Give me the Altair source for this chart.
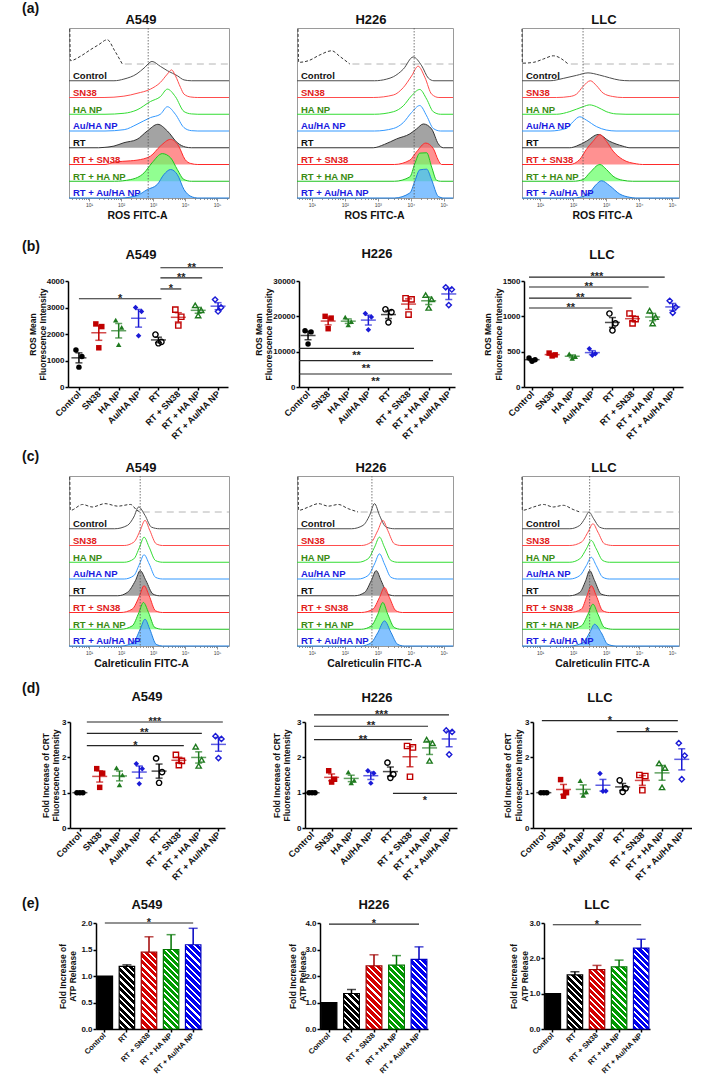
import math
import altair as alt
import pandas as pd

FONT = "Liberation Sans"

GROUPS = ["Control", "SN38", "HA NP", "Au/HA NP", "RT", "RT + SN38", "RT + HA NP", "RT + Au/HA NP"]
ATP_GROUPS = ["Control", "RT", "RT + SN38", "RT + HA NP", "RT + Au/HA NP"]

DOT_COLORS = ["#000000", "#c00000", "#1f7a1f", "#1a1ad6"] * 2
DOT_SHAPES = ["circle", "square", "triangle-up", "diamond"] * 2

# ---- (b) ROS mean fluorescence intensity, three replicates per group (GROUPS order)
ros_a549 = [[1400, 1150, 750], [2380, 2280, 1480], [2520, 2250, 1600], [3000, 2850, 1930],
            [1980, 1700, 1650], [2920, 2650, 2320], [3080, 2900, 2700], [3300, 3000, 2850]]
ros_h226 = [[15900, 15600, 12200], [20000, 19500, 16500], [19800, 18500, 17600], [20800, 19800, 16200],
            [22000, 21200, 18300], [25100, 24800, 20500], [26000, 24800, 22400], [28200, 27600, 23200]]
ros_llc = [[410, 385, 365], [480, 455, 440], [470, 430, 405], [540, 470, 450],
           [1040, 900, 800], [1040, 960, 900], [1080, 990, 900], [1220, 1130, 1050]]

# significance brackets: (from, to, height, stars, stars under the line)
ros_a549_sig = [(0.0, 4.15, 3330, "*", False), (4.1, 5.15, 3700, "*", False),
                (4.1, 6.2, 4120, "**", False), (4.1, 7.25, 4500, "**", False)]
ros_h226_sig = [(-0.45, 5.27, 10950, "**", True), (-0.45, 6.22, 7450, "**", True),
                (-0.45, 7.16, 3680, "**", True)]
ros_llc_sig = [(-0.15, 4.0, 1118, "**", False), (-0.15, 4.95, 1259, "**", False),
               (-0.15, 5.8, 1415, "**", False), (-0.15, 6.6, 1556, "***", False)]

# ---- (d) fold increase of CRT fluorescence intensity
crt_a549 = [[1, 1, 1], [1.68, 1.55, 1.15], [1.7, 1.5, 1.22], [1.82, 1.68, 1.25],
            [1.97, 1.58, 1.28], [2.07, 1.9, 1.78], [2.3, 1.93, 1.76], [2.6, 2.52, 1.98]]
crt_h226 = [[1, 1, 1], [1.62, 1.38, 1.3], [1.58, 1.35, 1.28], [1.62, 1.55, 1.27],
            [1.85, 1.52, 1.42], [2.32, 2.28, 1.45], [2.5, 2.4, 1.9], [2.76, 2.72, 2.08]]
crt_llc = [[1, 1, 1], [1.37, 1.0, 0.9], [1.34, 1.02, 0.92], [1.54, 1.05, 1.04],
           [1.35, 1.12, 1.02], [1.5, 1.47, 1.07], [1.83, 1.7, 1.15], [2.4, 2.05, 1.38]]

crt_a549_sig = [(0.35, 5.25, 2.33, "*", False), (0.35, 6.16, 2.68, "**", False), (0.35, 7.22, 3.0, "***", False)]
crt_h226_sig = [(0.1, 5.1, 2.5, "**", False), (0.1, 5.92, 2.88, "**", False),
                (0.1, 6.99, 3.2, "***", False), (4.13, 7.4, 0.98, "*", True)]
crt_llc_sig = [(-0.1, 6.8, 3.04, "*", False), (3.7, 6.8, 2.73, "*", False)]

# ---- (e) fold increase of ATP release (mean, SEM)
atp_a549 = [1.0, 1.18, 1.45, 1.50, 1.59]
atp_a549_sem = [0.0, 0.03, 0.29, 0.28, 0.31]
atp_h226 = [1.0, 1.34, 2.38, 2.41, 2.63]
atp_h226_sem = [0.0, 0.15, 0.42, 0.36, 0.47]
atp_llc = [1.0, 1.53, 1.68, 1.76, 2.29]
atp_llc_sem = [0.0, 0.09, 0.12, 0.19, 0.25]
atp_sig = [2.0, 3.96, 2.95]

ATP_FILL = ["#000000", "#000000", "#d40000", "#009c00", "#0000f0"]
ATP_EDGE = ["#000000", "#000000", "#a00000", "#007400", "#0000c0"]

# ---- (a)/(c) flow histograms: (log10 intensity, height in lane units)
ros_hist_a549 = {
    "iso": [(0.40, 2.1), (0.42, 0.2), (0.73, 0.46), (1.05, 0.86), (1.3, 1.15), (1.57, 1.45), (1.8, 0.8), (2.04, 0.0)],
    "Control": [(1.78, 0), (2.09, 0.1), (2.5, 0.42), (2.72, 0.76), (2.97, 1.15), (3.23, 0.86), (3.45, 0.6), (3.76, 0.3), (3.97, 0.05), (4.2, 0)],
    "SN38": [(1.47, 0), (2.09, 0.08), (2.5, 0.25), (2.92, 0.5), (3.23, 0.9), (3.45, 1.4), (3.58, 1.65), (3.7, 1.3), (3.86, 0.6), (3.97, 0.2), (4.18, 0.03), (4.4, 0)],
    "HA NP": [(1.5, 0), (2.1, 0.06), (2.5, 0.26), (2.92, 0.76), (3.23, 1.05), (3.45, 1.5), (3.7, 1.05), (3.97, 0.16), (4.2, 0.02), (4.4, 0)],
    "Au/HA NP": [(1.5, 0), (2.1, 0.08), (2.5, 0.4), (2.92, 0.8), (3.23, 1.0), (3.45, 1.45), (3.7, 1.0), (3.97, 0.2), (4.2, 0.02), (4.4, 0)],
    "RT": [(1.3, 0), (1.47, 0.02), (1.78, 0.1), (2.09, 0.3), (2.5, 0.5), (2.82, 1.0), (3.15, 1.4), (3.45, 1.0), (3.76, 0.3), (4.02, 0.04), (4.2, 0)],
    "RT + SN38": [(1.5, 0), (1.78, 0.14), (2.3, 0.22), (2.5, 0.26), (2.92, 0.5), (3.23, 1.1), (3.55, 1.5), (3.8, 1.1), (4.0, 0.3), (4.18, 0.06), (4.4, 0)],
    "RT + HA NP": [(1.8, 0), (2.3, 0.1), (2.72, 0.5), (2.97, 1.1), (3.29, 1.65), (3.55, 1.4), (3.76, 0.7), (3.97, 0.1), (4.2, 0)],
    "RT + Au/HA NP": [(2.0, 0), (2.5, 0.15), (2.82, 0.5), (3.13, 0.8), (3.34, 1.4), (3.55, 1.7), (3.76, 1.4), (3.97, 0.5), (4.18, 0.1), (4.4, 0)],
}
ros_hist_h226 = {
    "iso": [(0.58, 2.1), (0.6, 0.1), (0.9, 0.2), (1.25, 0.55), (1.6, 0.79), (1.85, 0.45), (2.15, 0.0)],
    "Control": [(2.9, 0), (3.27, 0.1), (3.47, 0.24), (3.77, 0.69), (4.07, 1.42), (4.33, 0.89), (4.53, 0.16), (4.7, 0)],
    "SN38": [(2.86, 0), (3.47, 0.15), (3.77, 0.59), (4.02, 1.28), (4.22, 1.87), (4.43, 1.18), (4.63, 0.2), (4.85, 0)],
    "HA NP": [(2.9, 0), (3.47, 0.15), (3.77, 0.5), (4.02, 1.1), (4.27, 1.48), (4.48, 0.9), (4.68, 0.15), (4.9, 0)],
    "Au/HA NP": [(2.9, 0), (3.47, 0.15), (3.77, 0.5), (4.02, 1.1), (4.27, 1.52), (4.48, 0.9), (4.68, 0.15), (4.9, 0)],
    "RT": [(2.86, 0), (3.2, 0.2), (3.57, 0.53), (3.97, 0.83), (4.17, 1.12), (4.38, 1.42), (4.63, 1.12), (4.83, 0.24), (4.98, 0)],
    "RT + SN38": [(3.5, 0), (3.97, 0.26), (4.17, 0.75), (4.45, 1.28), (4.68, 0.95), (4.83, 0.26), (4.93, 0)],
    "RT + HA NP": [(3.5, 0), (3.97, 0.26), (4.12, 1.05), (4.27, 1.68), (4.48, 1.7), (4.63, 0.85), (4.78, 0.06), (4.9, 0)],
    "RT + Au/HA NP": [(3.5, 0), (3.97, 0.3), (4.12, 1.0), (4.27, 1.68), (4.48, 1.72), (4.63, 1.08), (4.83, 0.1), (5.0, 0)],
}
ros_hist_llc = {
    "iso": [(0.45, 2.1), (0.46, 0.05), (0.8, 0.1), (1.1, 0.3), (1.4, 0.49), (1.85, 0.0)],
    "Control": [(1.3, 0), (1.7, 0.14), (2.1, 0.32), (2.45, 0.47), (2.8, 0.34), (3.1, 0.18), (3.4, 0.04), (3.7, 0)],
    "SN38": [(1.5, 0), (1.9, 0.06), (2.1, 0.2), (2.3, 0.66), (2.52, 1.0), (2.71, 0.7), (2.91, 0.26), (3.2, 0.06), (3.5, 0)],
    "HA NP": [(1.5, 0), (1.9, 0.16), (2.3, 0.45), (2.5, 0.56), (2.71, 0.45), (3.0, 0.16), (3.3, 0.02), (3.6, 0)],
    "Au/HA NP": [(1.3, 0), (1.8, 0.16), (2.0, 0.56), (2.2, 0.85), (2.4, 0.65), (2.71, 0.26), (3.0, 0.06), (3.3, 0)],
    "RT": [(1.9, 0), (2.1, 0.1), (2.4, 0.39), (2.76, 0.79), (3.1, 0.39), (3.5, 0.1), (3.72, 0)],
    "RT + SN38": [(1.9, 0), (2.2, 0.3), (2.4, 0.9), (2.6, 1.38), (2.81, 1.78), (3.01, 1.38), (3.21, 0.8), (3.5, 0.3), (3.92, 0.04), (4.1, 0)],
    "RT + HA NP": [(2.0, 0), (2.3, 0.1), (2.5, 0.5), (2.81, 1.0), (3.01, 0.7), (3.21, 0.3), (3.5, 0.06), (3.8, 0)],
    "RT + Au/HA NP": [(2.0, 0), (2.2, 0.04), (2.5, 0.34), (2.71, 0.83), (2.86, 1.03), (3.11, 0.73), (3.41, 0.24), (3.72, 0.04), (3.9, 0)],
}
crt_hist_a549 = {
    "iso": [(0.40, 2.1), (0.42, 0.1), (0.8, 0.45), (1.1, 0.3), (1.5, 0.5), (1.9, 0.35), (2.3, 0.45), (2.5, 0.1), (2.6, 0)],
    "Control": [(1.8, 0), (2.2, 0.2), (2.4, 0.7), (2.55, 1.3), (2.75, 0.8), (2.95, 0.1), (3.2, 0)],
    "SN38": [(2.1, 0), (2.4, 0.2), (2.6, 0.9), (2.75, 1.5), (2.9, 0.9), (3.1, 0.1), (3.3, 0)],
    "HA NP": [(2.1, 0), (2.4, 0.2), (2.58, 0.9), (2.72, 1.5), (2.88, 0.9), (3.08, 0.1), (3.3, 0)],
    "Au/HA NP": [(2.1, 0), (2.4, 0.2), (2.58, 0.9), (2.72, 1.45), (2.88, 0.9), (3.08, 0.1), (3.3, 0)],
    "RT": [(1.9, 0), (2.2, 0.2), (2.45, 0.9), (2.6, 1.5), (2.78, 0.9), (3.0, 0.1), (3.2, 0)],
    "RT + SN38": [(2.0, 0), (2.35, 0.2), (2.58, 1.0), (2.72, 1.6), (2.88, 1.0), (3.08, 0.1), (3.3, 0)],
    "RT + HA NP": [(2.0, 0), (2.35, 0.2), (2.56, 1.0), (2.7, 1.6), (2.86, 1.0), (3.06, 0.1), (3.3, 0)],
    "RT + Au/HA NP": [(2.0, 0), (2.38, 0.2), (2.6, 1.0), (2.75, 1.6), (2.9, 1.0), (3.1, 0.1), (3.3, 0)],
}
crt_hist_h226 = {
    "iso": [(0.58, 2.1), (0.6, 0.1), (0.9, 0.3), (1.2, 0.5), (1.5, 0.35), (1.8, 0.45), (2.1, 0.2), (2.4, 0)],
    "Control": [(2.2, 0), (2.55, 0.2), (2.75, 0.8), (2.9, 1.5), (3.05, 0.8), (3.25, 0.1), (3.5, 0)],
    "SN38": [(2.5, 0), (2.8, 0.2), (3.0, 0.9), (3.15, 1.5), (3.3, 0.9), (3.5, 0.1), (3.7, 0)],
    "HA NP": [(2.4, 0), (2.7, 0.2), (2.9, 0.9), (3.05, 1.5), (3.2, 0.9), (3.4, 0.1), (3.6, 0)],
    "Au/HA NP": [(2.4, 0), (2.7, 0.2), (2.9, 0.9), (3.05, 1.5), (3.2, 0.9), (3.4, 0.1), (3.6, 0)],
    "RT": [(2.3, 0), (2.6, 0.2), (2.8, 0.9), (2.95, 1.5), (3.1, 0.9), (3.3, 0.1), (3.5, 0)],
    "RT + SN38": [(2.5, 0), (2.85, 0.2), (3.05, 0.9), (3.2, 1.5), (3.35, 0.9), (3.55, 0.1), (3.75, 0)],
    "RT + HA NP": [(2.5, 0), (2.8, 0.2), (3.0, 0.9), (3.15, 1.6), (3.3, 0.9), (3.5, 0.1), (3.7, 0)],
    "RT + Au/HA NP": [(2.5, 0), (2.8, 0.2), (3.0, 0.8), (3.2, 1.5), (3.4, 0.8), (3.6, 0.1), (3.8, 0)],
}
crt_hist_llc = {
    "iso": [(0.45, 2.1), (0.46, 0.1), (0.8, 0.3), (1.1, 0.45), (1.4, 0.3), (1.7, 0.4), (2.0, 0.15), (2.2, 0)],
    "Control": [(1.9, 0), (2.2, 0.2), (2.35, 0.6), (2.48, 1.0), (2.62, 0.6), (2.8, 0.1), (3.0, 0)],
    "SN38": [(1.9, 0), (2.25, 0.2), (2.45, 0.8), (2.6, 1.3), (2.75, 0.8), (2.95, 0.1), (3.2, 0)],
    "HA NP": [(1.9, 0), (2.2, 0.2), (2.4, 0.8), (2.55, 1.3), (2.7, 0.8), (2.9, 0.1), (3.1, 0)],
    "Au/HA NP": [(1.9, 0), (2.2, 0.2), (2.4, 0.8), (2.55, 1.3), (2.7, 0.8), (2.9, 0.1), (3.1, 0)],
    "RT": [(1.9, 0), (2.2, 0.2), (2.38, 0.9), (2.5, 1.5), (2.65, 0.9), (2.85, 0.1), (3.1, 0)],
    "RT + SN38": [(1.9, 0), (2.25, 0.2), (2.42, 1.0), (2.55, 1.6), (2.7, 1.0), (2.9, 0.1), (3.1, 0)],
    "RT + HA NP": [(1.9, 0), (2.25, 0.2), (2.45, 0.9), (2.6, 1.5), (2.75, 0.9), (2.95, 0.1), (3.2, 0)],
    "RT + Au/HA NP": [(1.9, 0), (2.3, 0.2), (2.5, 0.8), (2.65, 1.3), (2.85, 0.8), (3.05, 0.1), (3.3, 0)],
}

# lane of each sample in the stacked histogram (0 = bottom)
LANES = {"iso": 8, "Control": 7, "SN38": 6, "HA NP": 5, "Au/HA NP": 4,
         "RT": 3, "RT + SN38": 2, "RT + HA NP": 1, "RT + Au/HA NP": 0}
LABEL_COLORS = {"Control": "#111111", "SN38": "#e0201a", "HA NP": "#3a8a12", "Au/HA NP": "#1a1ae0",
                "RT": "#111111", "RT + SN38": "#e0201a", "RT + HA NP": "#3a8a12", "RT + Au/HA NP": "#1a1ae0"}
OPEN_LINES = {"Control": "#4d4d4d", "SN38": "#ff4d4d", "HA NP": "#33dd33", "Au/HA NP": "#3399ff"}
FILLED = [("RT", "#7f7f7f", "#333333"), ("RT + SN38", "#ff6666", "#ff2a2a"),
          ("RT + HA NP", "#66ff66", "#1fc41f"), ("RT + Au/HA NP", "#55aaff", "#1f7fe0")]

HIST_H = 170
HIST_TOP = 10.15
PLOT_H = 106
JITTER = [-0.15, 0.15, 0.0]
STAR = "#262626"
ONE = pd.DataFrame({"k": [0]})
SUP = "['⁰','¹','²','³','⁴','⁵','⁶']"
GROUP_LABEL_EXPR = "[" + ",".join("'%s'" % g for g in GROUPS) + "][datum.value]"
IDENT = dict(scale=None)


def title_layer(text, x, y):
    return alt.Chart(ONE).mark_text(font=FONT, fontSize=13, fontWeight="bold", baseline="middle",
                                    align="center", color="#111111").encode(
        x=alt.value(x), y=alt.value(y), text=alt.value(text))


def curve_frame(curves, dom):
    rows = []
    for s, pts in curves.items():
        lane = LANES[s]
        seq = list(pts)
        if s != "iso":
            seq = [(dom[0], 0.0)] + seq + [(dom[1], 0.0)]
        for d, h in seq:
            rows.append({"s": s, "d": d, "y": lane + h, "base": lane, "c": OPEN_LINES.get(s, "#333333")})
    return pd.DataFrame(rows)


def hist_panel(curves, dotted, dom, width, title, tpos, xtitle, xtitle_x):
    df = curve_frame(curves, dom)
    ticks = []
    for n in range(0, 7):
        for k in range(1, 10):
            v = n if k == 1 else n + math.log10(k)
            if dom[0] <= v <= dom[1]:
                ticks.append(v)
    xsc = alt.Scale(domain=dom, nice=False, zero=False)
    ysc = alt.Scale(domain=[0, HIST_TOP], nice=False, zero=False)
    xax = alt.Axis(values=ticks, grid=False, domain=False,
                   labelExpr="datum.value % 1 == 0 ? '10' + " + SUP + "[datum.value] : ''",
                   labelFont=FONT, labelFontSize=5, labelColor="#444444", labelPadding=1,
                   labelOverlap=False, labelFlush=False,
                   tickColor="#777777", tickWidth=0.8,
                   tickSize={"condition": {"test": "datum.value % 1 == 0", "value": 3}, "value": 1.5},
                   title=xtitle, titleFont=FONT, titleFontSize=10.5, titleFontWeight="bold",
                   titleColor="#111111", titleX=xtitle_x, titleY=17, titleAlign="center",
                   titleBaseline="middle")
    X = alt.X("d:Q", scale=xsc, axis=xax)
    Y = alt.Y("y:Q", scale=ysc, axis=None)
    src = alt.Chart(df)
    layers = []
    layers.append(src.transform_filter("datum.s == 'iso'").mark_line(
        color="#333333", strokeWidth=1, strokeDash=[3, 2], interpolate="monotone").encode(X, Y))
    iso_end = curves["iso"][-1][0]
    layers.append(alt.Chart(pd.DataFrame({"d": [iso_end + 0.08], "d2": [dom[1]], "y": [LANES["iso"]]}))
                  .mark_rule(color="#b4b4b4", strokeWidth=1, strokeDash=[7, 5])
                  .encode(x=alt.X("d:Q", scale=xsc, axis=xax), x2="d2:Q", y=alt.Y("y:Q", scale=ysc, axis=None)))
    names = list(OPEN_LINES)
    layers.append(src.transform_filter(alt.FieldOneOfPredicate(field="s", oneOf=names)).mark_line(
        strokeWidth=1, interpolate="monotone").encode(X, Y, detail="s:N", color=alt.Color("c:N", **IDENT)))
    for s, fill, line in FILLED:
        sub = src.transform_filter(alt.FieldEqualPredicate(field="s", equal=s))
        layers.append(sub.mark_area(fill=fill, fillOpacity=0.72, interpolate="monotone").encode(X, Y, y2="base:Q"))
        layers.append(sub.mark_line(color=line, strokeWidth=1, interpolate="monotone").encode(X, Y))
    layers.append(alt.Chart(pd.DataFrame({"d": [dotted]})).mark_rule(
        color="#555555", strokeWidth=0.8, strokeDash=[1.5, 1.5]).encode(x=alt.X("d:Q", scale=xsc, axis=xax)))
    lab = pd.DataFrame({"s": GROUPS, "ly": [LANES[g] + 0.1 for g in GROUPS],
                        "c": [LABEL_COLORS[g] for g in GROUPS]})
    layers.append(alt.Chart(lab).mark_text(font=FONT, fontSize=9.5, fontWeight="bold", align="left",
                                           baseline="alphabetic").encode(
        x=alt.value(4), y=alt.Y("ly:Q", scale=ysc, axis=None), text="s:N",
        color=alt.Color("c:N", **IDENT)))
    layers.append(title_layer(title, *tpos))
    return alt.layer(*layers).properties(width=width, height=HIST_H,
                                         view=alt.ViewBackground(stroke="#9a9a9a", strokeWidth=1))


def y_axis(values, fmt, title, title_x):
    return alt.Axis(values=values, format=fmt, grid=False, labelFont=FONT, labelFontSize=8,
                    labelFontWeight="bold", labelColor="#111111", labelPadding=1, labelFlush=False,
                    labelOverlap=False, tickSize=3, tickWidth=1.5, tickColor="#000000",
                    domainColor="#000000", domainWidth=1.5,
                    title=title, titleFont=FONT, titleFontSize=8.5, titleFontWeight="bold",
                    titleColor="#111111", titleAngle=270, titleAlign="center", titleBaseline="middle",
                    titleX=title_x, titleY=PLOT_H / 2, titleLineHeight=10.5)


def x_axis_common(**kw):
    return dict(labelAngle=315, labelAlign="right", labelBaseline="middle", labelPadding=2,
                labelFont=FONT, labelFontWeight="bold", labelColor="#111111",
                labelOverlap=False, labelFlush=False, tickSize=3, tickWidth=1.5, tickColor="#000000",
                domainColor="#000000", domainWidth=1.5, grid=False, title=None, **kw)


def star_layer(sdf, xenc, yenc, dy):
    return alt.Chart(sdf).mark_text(font=FONT, fontSize=11, fontWeight="bold", fill=STAR,
                                    baseline="alphabetic", dy=dy).encode(xenc, yenc, text="lab:N")


def dot_panel(values, sig, title, tpos, xdom, width, ydom, yticks, ytitle, ytitle_x):
    df = pd.DataFrame([{"idx": i, "grp": GROUPS[i], "rep": r, "v": v, "c": DOT_COLORS[i]}
                       for i, reps in enumerate(values) for r, v in enumerate(reps)])
    xsc = alt.Scale(domain=xdom, nice=False, zero=False)
    ysc = alt.Scale(domain=ydom, nice=False, zero=False)
    xax = alt.Axis(values=list(range(8)), labelExpr=GROUP_LABEL_EXPR, labelFontSize=9, **x_axis_common())
    yax = y_axis(yticks, "d", ytitle, ytitle_x)
    X = alt.X("idx:Q", scale=xsc, axis=xax)
    XJ = alt.X("xj:Q", scale=xsc, axis=xax)
    col = alt.Color("c:N", **IDENT)
    shp = alt.Shape("grp:N", scale=alt.Scale(domain=GROUPS, range=DOT_SHAPES), legend=None)
    base = alt.Chart(df)
    pts = base.transform_calculate(xj="datum.idx + %s[datum.rep]" % JITTER)
    filled = pts.transform_filter("datum.idx < 4").mark_point(filled=True, size=30, opacity=1).encode(
        XJ, alt.Y("v:Q", scale=ysc, axis=yax), color=col, shape=shp)
    hollow = pts.transform_filter("datum.idx >= 4").mark_point(filled=False, size=28, strokeWidth=1.4,
                                                               opacity=1).encode(
        XJ, alt.Y("v:Q", scale=ysc, axis=yax), color=col, shape=shp)
    stats = base.transform_aggregate(m="mean(v)", se="stderr(v)", groupby=["idx", "grp", "c"]).transform_calculate(
        lo="datum.m - datum.se", hi="datum.m + datum.se")
    mean_tick = stats.mark_tick(orient="horizontal", size=15, thickness=1.5).encode(
        X, alt.Y("m:Q", scale=ysc, axis=yax), color=col)
    err = stats.mark_rule(strokeWidth=1.5).encode(X, alt.Y("lo:Q", scale=ysc, axis=yax), y2="hi:Q", color=col)
    caps = stats.transform_fold(["lo", "hi"], as_=["which", "cap"]).mark_tick(
        orient="horizontal", size=7, thickness=1.5).encode(X, alt.Y("cap:Q", scale=ysc, axis=yax), color=col)
    sdf = pd.DataFrame(sig, columns=["x1", "x2", "y", "lab", "below"])
    sdf["xm"] = (sdf["x1"] + sdf["x2"]) / 2
    bars = alt.Chart(sdf).mark_rule(strokeWidth=1.2, color=STAR).encode(
        alt.X("x1:Q", scale=xsc, axis=xax), x2="x2:Q", y=alt.Y("y:Q", scale=ysc, axis=yax))
    XM = alt.X("xm:Q", scale=xsc, axis=xax)
    YS = alt.Y("y:Q", scale=ysc, axis=yax)
    layers = [err, caps, mean_tick, filled, hollow, bars]
    if (~sdf["below"]).any():
        layers.append(star_layer(sdf[~sdf["below"]], XM, YS, 3))
    if sdf["below"].any():
        layers.append(star_layer(sdf[sdf["below"]], XM, YS, 11))
    layers.append(title_layer(title, *tpos))
    return alt.layer(*layers).properties(width=width, height=PLOT_H)


def stripe_fill(color, w, h, period=4.6, white=0.34):
    # diagonal white hatching expressed as a hard-stop linear gradient
    s = (w + h) / (w * w + h * h)
    n = max(2, round((w + h) / (math.sqrt(2) * period)))
    stops = []
    for k in range(n):
        a, b, c = k / n, (k + 1 - white) / n, (k + 1) / n
        stops += [alt.GradientStop(color=color, offset=a), alt.GradientStop(color=color, offset=b),
                  alt.GradientStop(color="#ffffff", offset=b), alt.GradientStop(color="#ffffff", offset=c)]
    return alt.LinearGradient(gradient="linear", stops=stops, x1=0, y1=1, x2=s * w, y2=1 - s * h)


def atp_panel(means, sems, sig_y, title, tpos, width, ydom, yticks, ytitle_x):
    df = pd.DataFrame({"grp": ATP_GROUPS, "m": means, "se": sems, "i": list(range(5)), "c": ATP_EDGE})
    p_in, p_out = 0.3, 0.05
    xsc = alt.Scale(domain=ATP_GROUPS, paddingInner=p_in, paddingOuter=p_out)
    ysc = alt.Scale(domain=ydom, nice=False, zero=True)
    xax = alt.Axis(labelFontSize=7.5, **x_axis_common())
    yax = y_axis(yticks, ".1f", ["Fold Increase of", "ATP Release"], ytitle_x)
    X = alt.X("grp:N", scale=xsc, axis=xax)
    Y = alt.Y("m:Q", scale=ysc, axis=yax)
    step = width / (5 - p_in + 2 * p_out)
    bw = step * (1 - p_in)
    layers = []
    for i in range(5):
        hpx = means[i] / (ydom[1] - ydom[0]) * PLOT_H
        fill = ATP_FILL[i] if i == 0 else stripe_fill(ATP_FILL[i], bw, hpx)
        layers.append(alt.Chart(df).transform_filter(alt.datum.i == i).mark_bar(
            fill=fill, stroke=ATP_EDGE[i], strokeWidth=1.2, opacity=1).encode(X, Y))
    col = alt.Color("c:N", **IDENT)
    eb = alt.Chart(df).transform_filter("datum.se > 0").transform_calculate(hi="datum.m + datum.se")
    layers.append(eb.mark_rule(strokeWidth=1.5).encode(X, Y, y2="hi:Q", color=col))
    layers.append(eb.mark_tick(orient="horizontal", size=9, thickness=1.5).encode(
        X, alt.Y("hi:Q", scale=ysc, axis=yax), color=col))
    sdf = pd.DataFrame({"a": ["Control"], "b": ["RT + Au/HA NP"], "mid": ["RT + SN38"], "y": [sig_y],
                        "lab": ["*"]})
    layers.append(alt.Chart(sdf).mark_rule(strokeWidth=1.2, color=STAR).encode(
        alt.X("a:N", scale=xsc, axis=xax), x2="b:N", y=alt.Y("y:Q", scale=ysc, axis=yax)))
    layers.append(star_layer(sdf, alt.X("mid:N", scale=xsc, axis=xax), alt.Y("y:Q", scale=ysc, axis=yax), 3))
    layers.append(title_layer(title, *tpos))
    return alt.layer(*layers).properties(width=width, height=PLOT_H)


def spacer(w, h, letter="", ly=0):
    return alt.Chart(pd.DataFrame({"t": [letter]})).mark_text(
        font=FONT, fontSize=14, fontWeight="bold", align="left", baseline="top", color="#111111").encode(
        x=alt.value(22), y=alt.value(ly), text="t:N").properties(width=w, height=h)


def row(*cells):
    return alt.hconcat(*cells, spacing=0, bounds="flush")


ROS_T = ["ROS Mean", "Fluorescence Intensity"]
CRT_T = ["Fold Increase of CRT", "Fluorescence Intensity"]
DOM_A549 = [0.375, 5.375]
DOM_H226 = [0.55, 0.55 + 156 / 33]
DOM_LLC = [0.45, 0.45 + 157 / 33]

# each row's first cell carries the panel letter; its height sets the distance to the next row
rows = [
    row(spacer(69, 212, "(a)", -26),
        hist_panel(ros_hist_a549, 2.85, DOM_A549, 160, "A549", (72, -8), "ROS FITC-A", 68),
        spacer(68, 1),
        hist_panel(ros_hist_h226, 4.1, DOM_H226, 156, "H226", (74, -8), "ROS FITC-A", 77),
        spacer(69, 1),
        hist_panel(ros_hist_llc, 2.3, DOM_LLC, 157, "LLC", (82, -8), "ROS FITC-A", 80)),
    row(spacer(68, 169, "(b)", -41),
        dot_panel(ros_a549, ros_a549_sig, "A549", (73, -26), [-0.55, 7.5], 160, [0, 4000],
                  [0, 1000, 2000, 3000, 4000], ROS_T, -36),
        spacer(71, 1),
        dot_panel(ros_h226, ros_h226_sig, "H226", (78, -27), [-0.45, 7.31], 156, [0, 30000],
                  [0, 10000, 20000, 30000], ROS_T, -41),
        spacer(69, 1),
        dot_panel(ros_llc, ros_llc_sig, "LLC", (78, -26), [-0.4, 7.51], 159, [0, 1500],
                  [0, 500, 1000, 1500], ROS_T, -36.5)),
    row(spacer(69, 206, "(c)", -26),
        hist_panel(crt_hist_a549, 2.6, DOM_A549, 160, "A549", (72, -8), "Calreticulin FITC-A", 72),
        spacer(68, 1),
        hist_panel(crt_hist_h226, 2.82, DOM_H226, 156, "H226", (74, -8), "Calreticulin FITC-A", 77),
        spacer(69, 1),
        hist_panel(crt_hist_llc, 2.5, DOM_LLC, 157, "LLC", (82, -8), "Calreticulin FITC-A", 80)),
    row(spacer(70, 175, "(d)", -40),
        dot_panel(crt_a549, crt_a549_sig, "A549", (77, -25), [-0.5, 7.33], 155, [0, 3], [0, 1, 2, 3], CRT_T, -25),
        spacer(80, 1),
        dot_panel(crt_h226, crt_h226_sig, "H226", (72, -24), [-0.36, 7.4], 152, [0, 3], [0, 1, 2, 3], CRT_T, -29),
        spacer(76, 1),
        dot_panel(crt_llc, crt_llc_sig, "LLC", (67, -24), [-0.55, 7.52], 159, [0, 3], [0, 1, 2, 3], CRT_T, -25.5)),
    row(spacer(96, 150, "(e)", -26),
        atp_panel(atp_a549, atp_a549_sem, atp_sig[0], "A549", (51, -18), 106, [0, 2], [0, 0.5, 1, 1.5, 2], -34),
        spacer(118, 1),
        atp_panel(atp_h226, atp_h226_sem, atp_sig[1], "H226", (54, -18), 108, [0, 4], [0, 1, 2, 3, 4], -28),
        spacer(116, 1),
        atp_panel(atp_llc, atp_llc_sem, atp_sig[2], "LLC", (53, -18), 106, [0, 3], [0, 1, 2, 3], -30.5)),
]

chart = alt.vconcat(*rows, spacing=0).properties(
    padding={"left": 0, "top": 2, "right": 0, "bottom": 0}, background="white"
).configure_view(stroke=None)

chart.save("out.html", embed_options={"renderer": "svg", "actions": False})
